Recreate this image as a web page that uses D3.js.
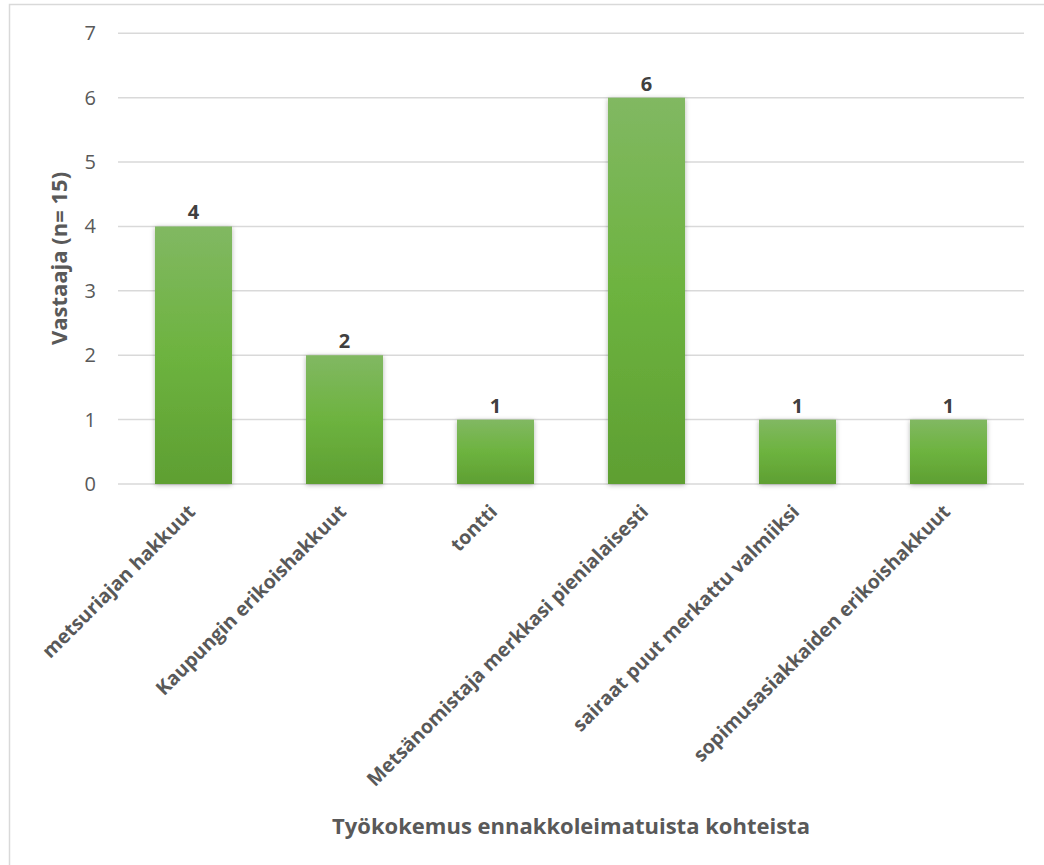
<!DOCTYPE html>
<html><head><meta charset="utf-8">
<script src="https://cdn.jsdelivr.net/npm/d3@7"></script>
<style>body{margin:0;background:#fff;} svg{display:block;}</style>
</head><body>
<svg id="c" width="1044" height="865"></svg>
<script>
const categories = ["metsuriajan hakkuut","Kaupungin erikoishakkuut","tontti","Metsänomistaja merkkasi pienialaisesti","sairaat puut merkattu valmiiksi","sopimusasiakkaiden erikoishakkuut"];
const values = [4,2,1,6,1,1];
const yTicks = [0,1,2,3,4,5,6,7];
const yTitle = "Vastaaja (n= 15)";
const xTitle = "Työkokemus ennakkoleimatuista kohteista";

const svg = d3.select("#c");
const font = "'Open Sans', sans-serif";
svg.append("rect").attr("x",9.5).attr("y",4.5).attr("width",1060).attr("height",900)
  .attr("fill","#fff").attr("stroke","#d9d9d9").attr("stroke-width",1.5);

const defs = svg.append("defs");
const g1 = defs.append("linearGradient").attr("id","bg").attr("x1",0).attr("y1",0).attr("x2",0).attr("y2",1);
g1.append("stop").attr("offset","0%").attr("stop-color","#81b862");
g1.append("stop").attr("offset","50%").attr("stop-color","#6db33f");
g1.append("stop").attr("offset","100%").attr("stop-color","#5e9f32");
const f = defs.append("filter").attr("id","sh").attr("x","-20%").attr("y","-10%").attr("width","140%").attr("height","120%");
f.append("feDropShadow").attr("dx",0).attr("dy",1).attr("stdDeviation",2.5).attr("flood-color","#000").attr("flood-opacity",0.3);

const x = d3.scaleBand().domain(categories).range([118,1024]).paddingInner(0.49).paddingOuter(0.245);
const y = d3.scaleLinear().domain([0,7]).range([484,33.3]);

// gridlines
svg.append("g").selectAll("line").data(yTicks).join("line")
  .attr("x1",118).attr("x2",1024).attr("y1",d=>y(d)).attr("y2",d=>y(d))
  .attr("stroke","#d9d9d9").attr("stroke-width",1.5);

// y axis labels
const ya = svg.append("g").attr("transform","translate(96,0)")
  .call(d3.axisLeft(y).tickValues(yTicks).tickSize(0).tickPadding(0).tickFormat(d3.format("d")));
ya.select(".domain").remove();
ya.selectAll("text").attr("font-family",font).attr("font-size",20).attr("fill","#595959");

// bars
svg.append("g").selectAll("rect").data(values).join("rect")
  .attr("x",(d,i)=>x(categories[i])).attr("width",x.bandwidth())
  .attr("y",d=>y(d)).attr("height",d=>y(0)-y(d))
  .attr("fill","url(#bg)").attr("filter","url(#sh)");

// value labels
svg.append("g").selectAll("text").data(values).join("text")
  .attr("x",(d,i)=>x(categories[i])+x.bandwidth()/2).attr("y",d=>y(d)-7)
  .attr("text-anchor","middle").attr("font-family",font).attr("font-weight","bold")
  .attr("font-size",20).attr("fill","#404040").text(d=>d);

// x labels
const xa = svg.append("g").attr("transform","translate(0,484)")
  .call(d3.axisBottom(x).tickSize(0).tickPadding(0));
xa.select(".domain").remove();
xa.selectAll("text").attr("font-family",font).attr("font-weight","bold").attr("font-size",19.5)
  .attr("fill","#595959").attr("text-anchor","end").attr("dy",0)
  .attr("transform","translate(3,29) rotate(-45)");

// titles
svg.append("text").attr("x",571).attr("y",834).attr("text-anchor","middle")
  .attr("font-family",font).attr("font-weight","bold").attr("font-size",22).attr("fill","#595959").text(xTitle);
svg.append("text").attr("transform","translate(67,258.5) rotate(-90)").attr("text-anchor","middle")
  .attr("font-family",font).attr("font-weight","bold").attr("font-size",22).attr("fill","#595959").text(yTitle);
</script>
</body></html>
